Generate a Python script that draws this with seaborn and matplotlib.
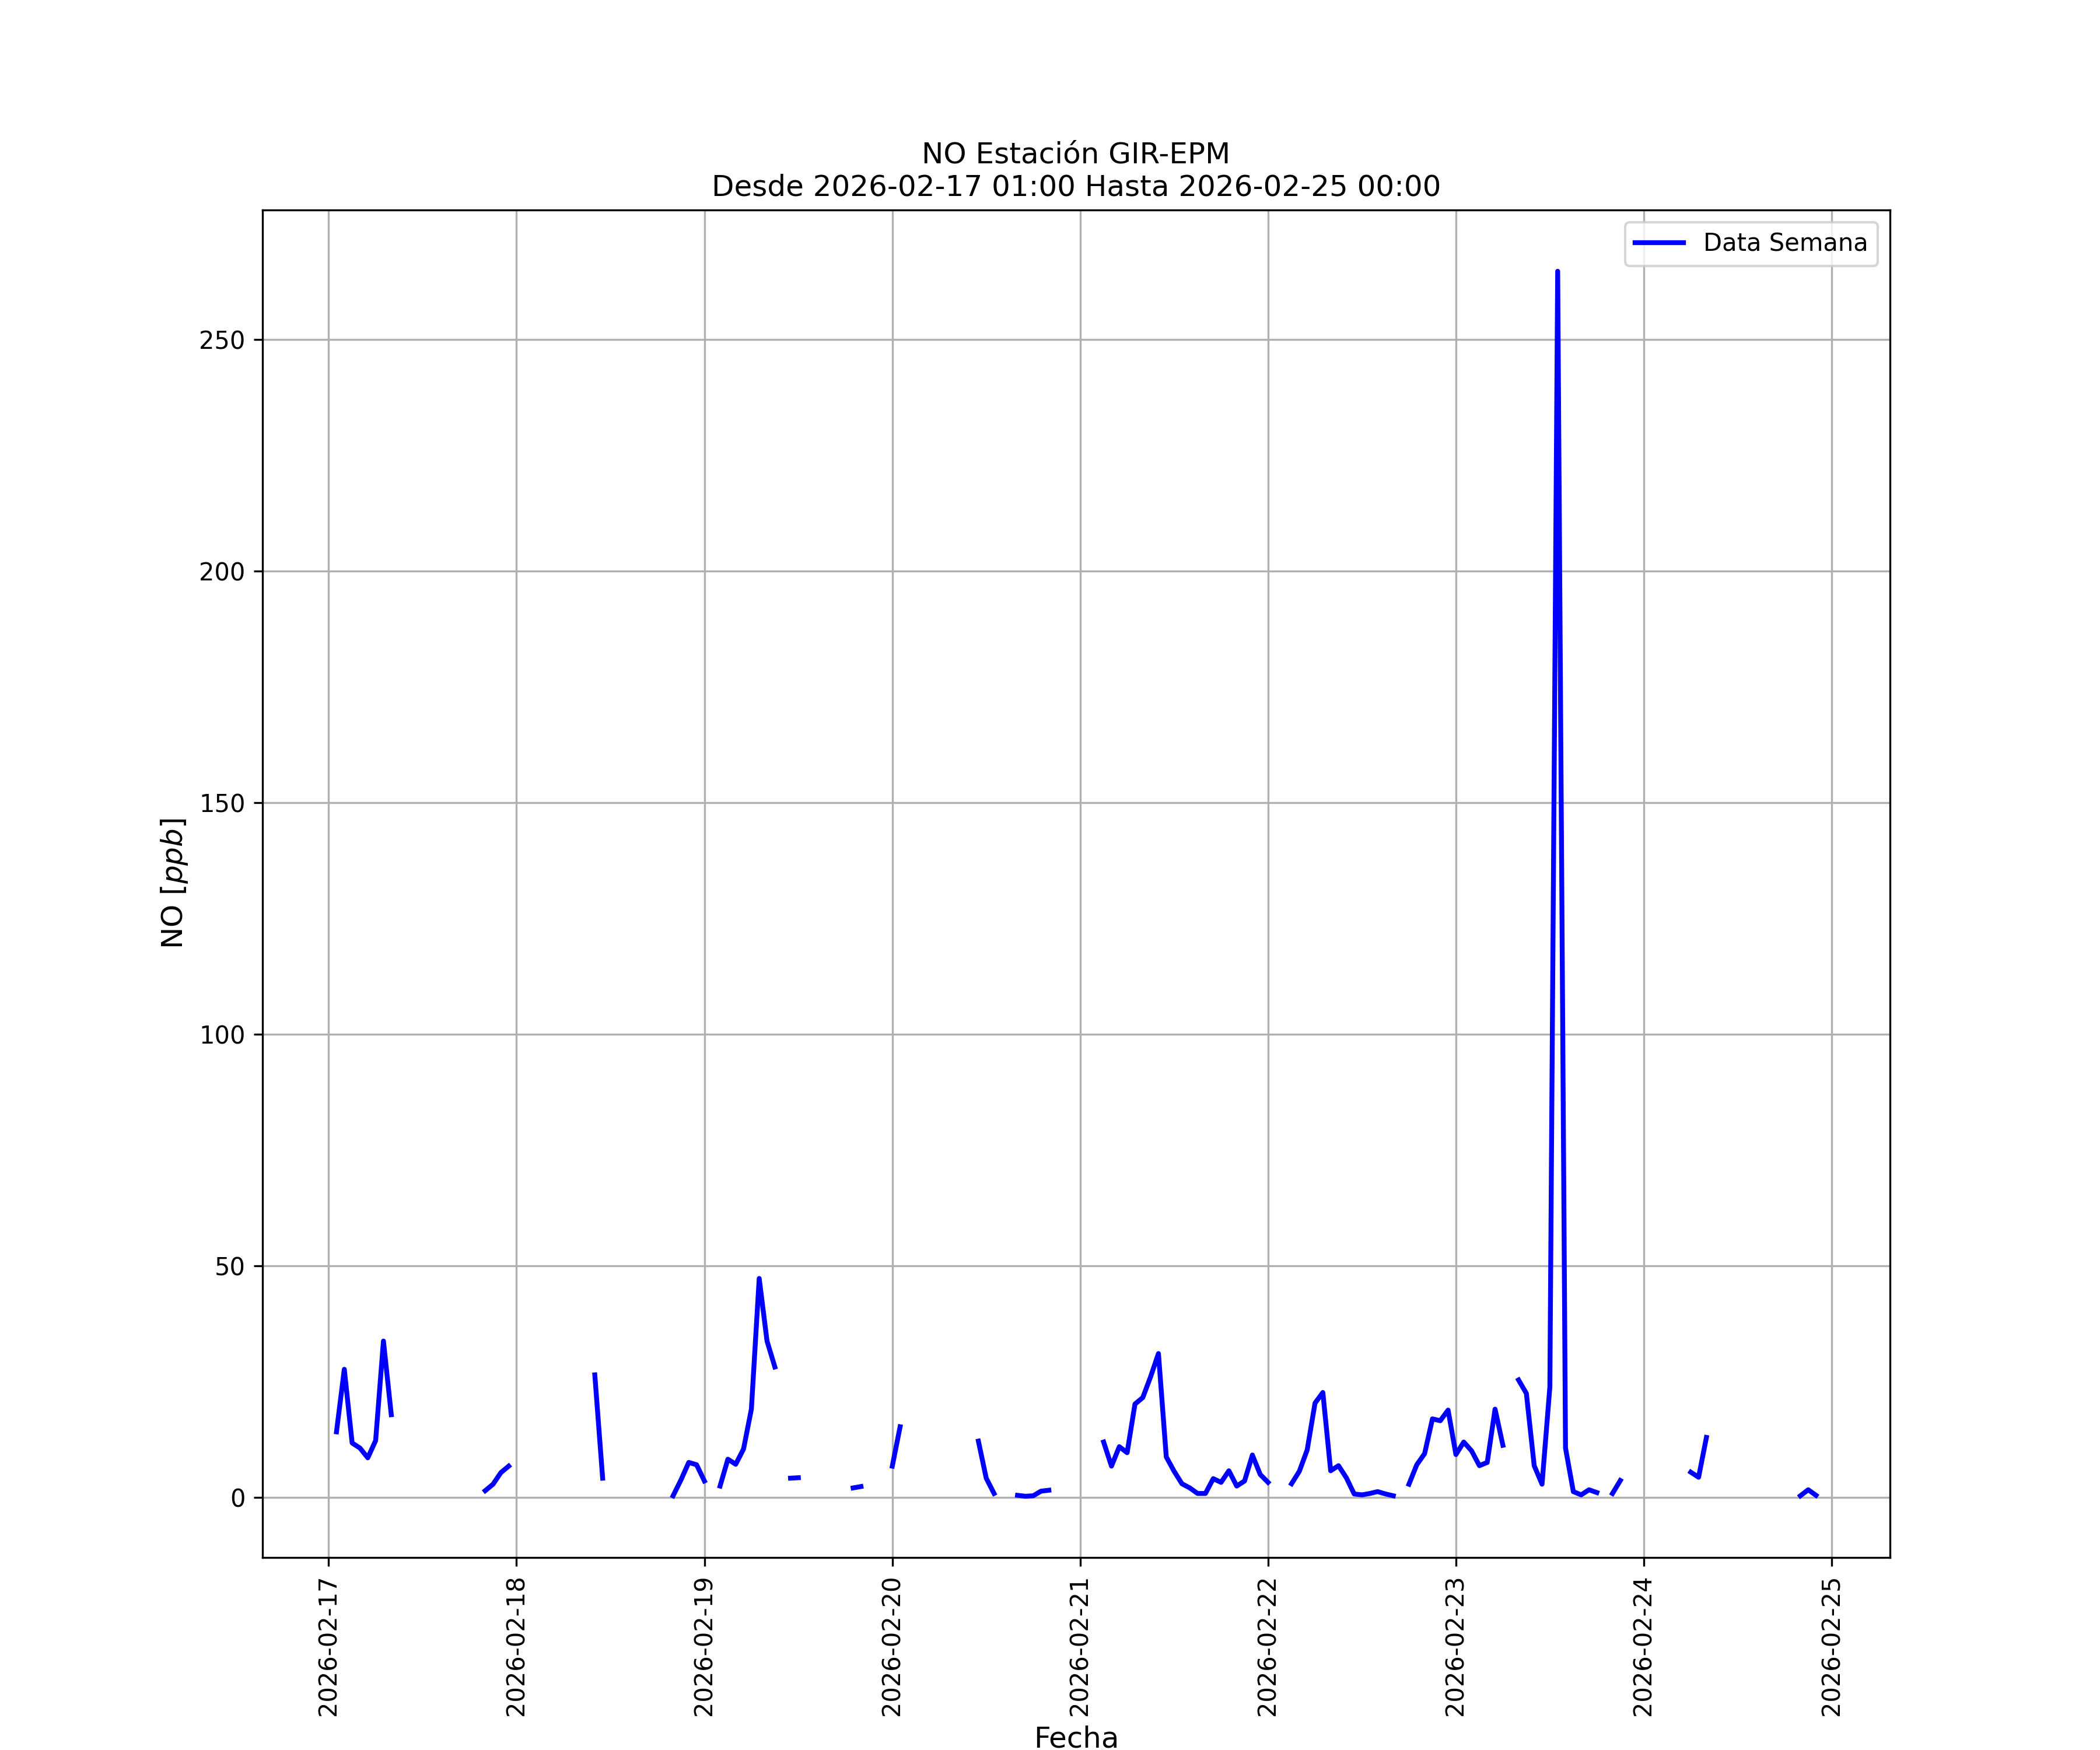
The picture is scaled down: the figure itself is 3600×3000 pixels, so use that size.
# Serie horaria de NO - Estacion GIR-EPM (semana)
import numpy as np
import pandas as pd
import matplotlib
matplotlib.use("Agg")
import matplotlib.pyplot as plt
import matplotlib.dates as mdates
import seaborn as sns

nan = np.nan

# Valores horarios de 01:00 a 24:00 (00:00 del dia siguiente), ppb
dia_17 = [14.2, 27.7, 11.8, 10.7, 8.6, 12.3, 33.8, 17.9, nan, nan, nan, nan,
          nan, nan, nan, nan, nan, nan, nan, 1.5, 2.9, 5.4, 6.8, nan]
dia_18 = [nan, nan, nan, nan, nan, nan, nan, nan, nan, 26.5, 4.2, nan,
          nan, nan, nan, nan, nan, nan, nan, 0.4, 3.8, 7.6, 7.1, 3.6]
dia_19 = [nan, 2.5, 8.3, 7.2, 10.5, 19.1, 47.3, 33.8, 28.2, nan, 4.2, 4.3,
          nan, nan, nan, nan, nan, nan, 2.1, 2.4, nan, nan, nan, 6.8]
dia_20 = [15.3, nan, nan, nan, nan, nan, nan, nan, nan, nan, 12.2, 4.2,
          0.9, nan, nan, 0.5, 0.3, 0.4, 1.4, 1.6, nan, nan, nan, nan]
dia_21 = [nan, nan, 12.0, 6.8, 11.0, 9.7, 20.2, 21.6, 26.1, 31.1, 8.8, 5.7,
          3.0, 2.1, 0.9, 0.9, 4.1, 3.3, 5.8, 2.5, 3.6, 9.2, 5.0, 3.3]
dia_22 = [nan, nan, 3.0, 5.7, 10.3, 20.4, 22.7, 5.8, 6.9, 4.3, 0.8, 0.6,
          0.9, 1.3, 0.8, 0.4, nan, 2.9, 7.1, 9.5, 17.0, 16.6, 18.9, 9.3]
dia_23 = [12.0, 10.1, 6.9, 7.6, 19.1, 11.3, nan, 25.4, 22.5, 6.9, 2.9, 23.9,
          264.7, 10.7, 1.3, 0.6, 1.7, 1.1, nan, 0.9, 3.7, nan, nan, nan]
dia_24 = [nan, nan, nan, nan, nan, 5.5, 4.4, 13.0, nan, nan, nan, nan,
          nan, nan, nan, nan, nan, nan, nan, 0.4, 1.7, 0.5, nan, nan]

inicio = "2026-02-17 01:00"
fin = "2026-02-25 00:00"

valores = dia_17 + dia_18 + dia_19 + dia_20 + dia_21 + dia_22 + dia_23 + dia_24
fechas = pd.date_range(inicio, fin, freq="h")

df = pd.DataFrame({"Fecha": fechas, "NO": valores})
# cada tramo sin datos faltantes se dibuja como una linea aparte
df["tramo"] = df["NO"].isna().cumsum()
df = df.dropna(subset=["NO"])

fig, ax = plt.subplots(figsize=(12, 10), dpi=300)
sns.lineplot(data=df, x="Fecha", y="NO", units="tramo", estimator=None,
             color="blue", linewidth=2, ax=ax)

ax.grid(True)
ax.xaxis.set_major_locator(mdates.DayLocator())
ax.xaxis.set_major_formatter(mdates.DateFormatter("%Y-%m-%d"))
plt.xticks(rotation=90)
ax.set_xlabel("Fecha", fontsize=12)
ax.set_ylabel("NO [$ppb$]", fontsize=12)
ax.set_title(f"NO Estación GIR-EPM\nDesde {inicio} Hasta {fin}", fontsize=12)
ax.legend(handles=[ax.lines[0]], labels=["Data Semana"], loc="upper right")

plt.savefig("out.png")
